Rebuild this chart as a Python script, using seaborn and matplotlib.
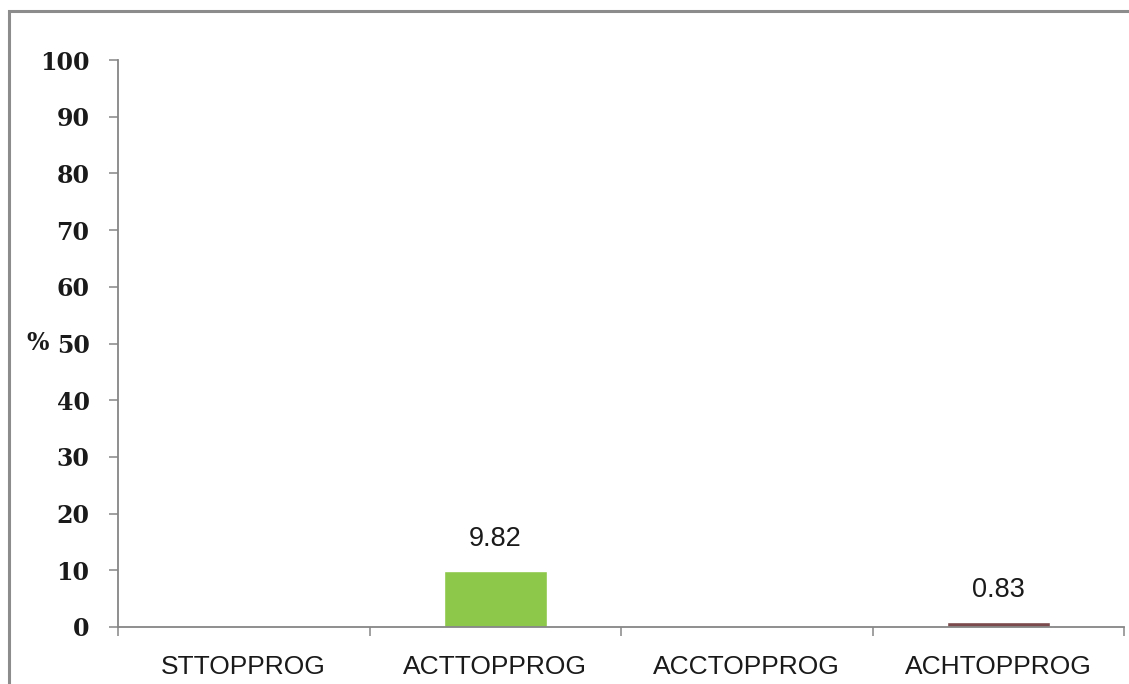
import matplotlib
matplotlib.use("Agg")
import matplotlib.pyplot as plt
from matplotlib.patches import Rectangle
import seaborn as sns
import pandas as pd

categories = ["STTOPPROG", "ACTTOPPROG", "ACCTOPPROG", "ACHTOPPROG"]
values = [0.0, 9.82, 0.0, 0.83]
bar_colors = ["#4F81BD", "#8DC84A", "#4BACC6", "#7A4A4C"]
value_labels = ["", "9.82", "", "0.83"]
y_ticks = [0, 10, 20, 30, 40, 50, 60, 70, 80, 90, 100]

sns.set_theme(style="white")
plt.rcParams["font.family"] = ["Liberation Sans Narrow", "Liberation Sans", "DejaVu Sans"]

W, H = 1129, 684
fig = plt.figure(figsize=(W / 100, H / 100), dpi=100)
fig.patch.set_facecolor("white")

ax_left, ax_right, ax_top, ax_bottom = 118, 1124, 60, 627
ax = fig.add_axes([ax_left / W, 1 - ax_bottom / H,
                   (ax_right - ax_left) / W, (ax_bottom - ax_top) / H])

df = pd.DataFrame({"category": categories, "value": values})
sns.barplot(data=df, x="category", y="value", hue="category",
            palette=dict(zip(categories, bar_colors)), legend=False,
            width=0.41, saturation=1, ax=ax)

ax.set_xlim(-0.5, len(categories) - 0.5)
ax.set_ylim(0, 100)
ax.set_xlabel("")
ax.set_ylabel("")

grey = "#868686"
for side in ["top", "right"]:
    ax.spines[side].set_visible(False)
for side in ["left", "bottom"]:
    ax.spines[side].set_color(grey)
    ax.spines[side].set_linewidth(1.3)

# y axis: bold serif numbers with outward ticks
ax.set_yticks(y_ticks)
ax.set_yticklabels([str(t) for t in y_ticks], fontsize=17, fontweight="bold",
                   family=["DejaVu Serif"], color="#1a1a1a")
ax.tick_params(axis="y", which="major", direction="out", length=6.5,
               width=1.1, color=grey, pad=14, left=True)

# x axis: category names, ticks at the category boundaries
ax.set_xticks(range(len(categories)))
ax.set_xticklabels(categories, fontsize=19, color="#1a1a1a")
ax.tick_params(axis="x", which="major", length=0, pad=20)
ax.set_xticks([i - 0.5 for i in range(len(categories) + 1)], minor=True)
ax.tick_params(axis="x", which="minor", direction="out", length=6.5,
               width=1.1, color=grey, bottom=True)

# value labels above the bars
for i, (v, lab) in enumerate(zip(values, value_labels)):
    if lab:
        ax.annotate(lab, (i, v), xytext=(0, 14), textcoords="offset points",
                    ha="center", va="bottom", fontsize=19.5, color="#1a1a1a")

# axis title placed beside the 50 tick
ax.text(-92 / (ax_right - ax_left), 50, "%", transform=ax.get_yaxis_transform(),
        ha="left", va="center", fontsize=17, fontweight="bold",
        family=["DejaVu Serif"], color="#1a1a1a")

# chart frame
frame = Rectangle((9 / W, -0.2), 1.2, 1.2 - 11 / H, transform=fig.transFigure,
                  fill=False, edgecolor="#8c8c8c", linewidth=2.2, clip_on=False)
fig.patches.append(frame)

fig.savefig("out.png", dpi=100)
